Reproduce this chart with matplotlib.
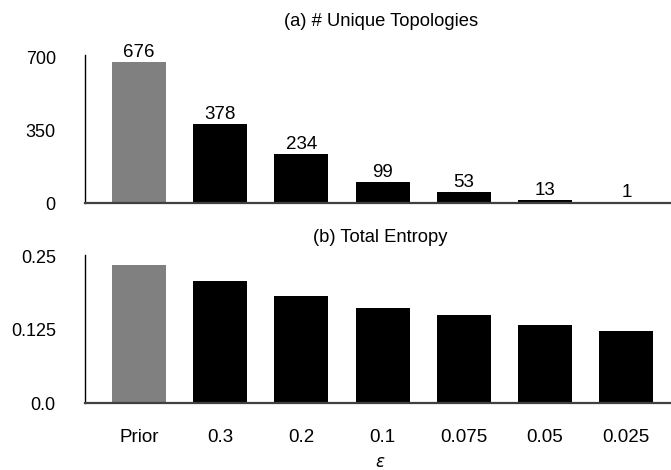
import matplotlib
matplotlib.use("Agg")
import matplotlib.pyplot as plt
import numpy as np

categories = ["Prior", "0.3", "0.2", "0.1", "0.075", "0.05", "0.025"]
unique_topologies = [676, 378, 234, 99, 53, 13, 1]
total_entropy = [0.236, 0.209, 0.183, 0.163, 0.151, 0.134, 0.123]
top_ticks = [0, 350, 700]
top_tick_labels = ["0", "350", "700"]
bot_ticks = [0.0, 0.125, 0.25]
bot_tick_labels = ["0.0", "0.125", "0.25"]
bar_colors = ["#808080"] + ["#000000"] * 6

plt.rcParams['font.family'] = ['Liberation Sans', 'DejaVu Sans']

W, H = 671, 470
fig = plt.figure(figsize=(W / 100, H / 100), dpi=100)

def fx(px):
    return px / W

def fy(py):
    return 1 - py / H

ax1 = fig.add_axes([fx(85), fy(203), fx(671) - fx(85), fy(55) - fy(203)])
ax2 = fig.add_axes([fx(85), fy(403), fx(671) - fx(85), fy(255) - fy(403)])

x = np.arange(len(categories))
width = 0.665

for ax in (ax1, ax2):
    for s in ("top", "right"):
        ax.spines[s].set_visible(False)
    ax.spines["left"].set_color("#000000")
    ax.spines["left"].set_linewidth(1.0)
    ax.spines["bottom"].set_color("#404040")
    ax.spines["bottom"].set_linewidth(1.6)
    ax.tick_params(axis="both", length=0, labelsize=13, colors="#000000")
    ax.tick_params(axis="y", pad=21)
    ax.set_xlim(-0.665, 6.55)

ax1.bar(x, unique_topologies, width=width, color=bar_colors)
ax1.set_ylim(0, 710)
ax1.set_yticks(top_ticks)
ax1.set_yticklabels(top_tick_labels)
ax1.set_xticks([])
for xi, v in zip(x, unique_topologies):
    ax1.annotate(str(v), (xi, v), xytext=(0, 1.0), textcoords="offset points",
                 ha="center", va="bottom", fontsize=13.5)

ax2.bar(x, total_entropy, width=width, color=bar_colors)
ax2.set_ylim(0, 0.2534)
ax2.set_yticks(bot_ticks)
ax2.set_yticklabels(bot_tick_labels)
ax2.set_xticks(x)
ax2.set_xticklabels(categories, fontsize=13.5)
ax2.tick_params(axis="x", pad=19)

fig.text(fx(381), fy(22), "(a) # Unique Topologies", ha="center", va="center", fontsize=13.2)
fig.text(fx(380), fy(238), "(b) Total Entropy", ha="center", va="center", fontsize=13.2)
fig.text(fx(380), fy(462), "ε", ha="center", va="center", fontsize=12, style="italic",
         family=["DejaVu Sans"])

fig.savefig("out.png", dpi=100)
